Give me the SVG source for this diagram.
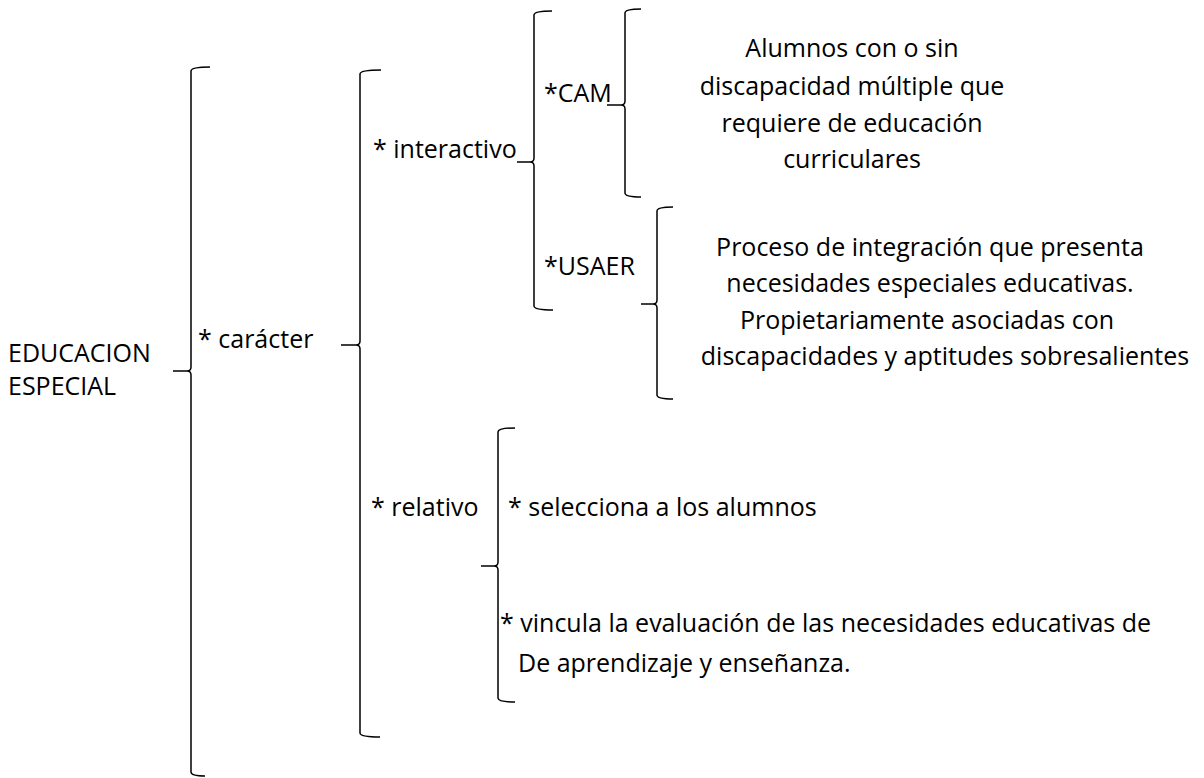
<svg xmlns="http://www.w3.org/2000/svg" width="1204" height="778" viewBox="0 0 1204 778">
<style>
text{font-family:"Open Sans","Liberation Sans",sans-serif;font-size:25px;fill:#000}
.c{text-anchor:middle}
.br{fill:none;stroke:#000;stroke-width:1.5}
</style>
<rect width="1204" height="778" fill="#fff"/>
<g id="connectors">
<path class="br" d="M210 67 Q191 67 191 71 L191 367 Q191 371 187 371 L173 371 M187 371 Q191 371 191 375 L191 772 Q191 776 205 776"/>
<path class="br" d="M381 70 Q360 70 360 74 L360 341 Q360 345 356 345 L341 345 M356 345 Q360 345 360 349 L360 733 Q360 737 380 737"/>
<path class="br" d="M552 11 Q534 11 534 15 L534 158 Q534 162 530 162 L517 162 M530 162 Q534 162 534 166 L534 306 Q534 310 553 310"/>
<path class="br" d="M641 9 Q625 9 625 13 L625 101 Q625 105 621 105 L607 105 M621 105 Q625 105 625 109 L625 193 Q625 197 641 197"/>
<path class="br" d="M673 207 Q657 207 657 211 L657 300 Q657 304 653 304 L641 304 M653 304 Q657 304 657 308 L657 395 Q657 399 673 399"/>
<path class="br" d="M515 428 Q498 428 498 432 L498 562 Q498 566 494 566 L481 566 M494 566 Q498 566 498 570 L498 698 Q498 702 515 702"/>
</g>
<g id="root"><text x="8" y="362">EDUCACION</text><text x="8" y="395">ESPECIAL</text></g>
<g id="caracter"><text x="198" y="348">* carácter</text></g>
<g id="interactivo"><text x="373" y="158">* interactivo</text></g>
<g id="cam"><text x="544" y="102">*CAM</text></g>
<g id="usaer"><text x="544" y="275">*USAER</text></g>
<g id="cam-desc"><text class="c" x="852" y="57">Alumnos con o sin</text><text class="c" x="852" y="95">discapacidad múltiple que</text><text class="c" x="852" y="132">requiere de educación</text><text class="c" x="852" y="168">curriculares</text></g>
<g id="usaer-desc"><text class="c" x="930" y="256">Proceso de integración que presenta</text><text class="c" x="930" y="292">necesidades especiales educativas.</text><text class="c" x="927" y="329">Propietariamente asociadas con</text><text class="c" x="945" y="365">discapacidades y aptitudes sobresalientes</text></g>
<g id="relativo"><text x="371" y="516">* relativo</text></g>
<g id="selecciona"><text x="508" y="516">* selecciona a los alumnos</text></g>
<g id="vincula"><text x="500" y="632">* vincula la evaluación de las necesidades educativas de</text><text x="518" y="672">De aprendizaje y enseñanza.</text></g>
</svg>
